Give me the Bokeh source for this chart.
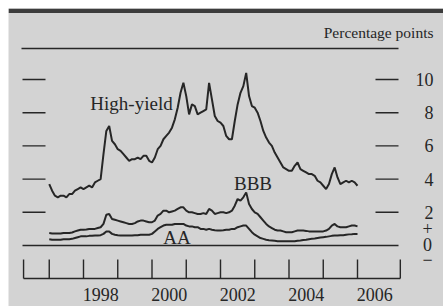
from bokeh.plotting import figure
from bokeh.models import Range1d
from bokeh.embed import file_html
from bokeh.resources import INLINE
from bokeh.core.properties import value

# ---- data (monthly, Jan 1997 .. Jan 2006), percentage points ----
start_year = 1997
high_yield = [
    3.7, 3.3, 3.0, 2.9, 3.0, 3.0, 2.9, 3.1, 3.1, 3.3, 3.4, 3.5,   # 1997
    3.4, 3.5, 3.6, 3.5, 3.8, 3.9, 4.0, 5.5, 6.9, 7.2, 6.3, 6.1,   # 1998
    5.8, 5.7, 5.5, 5.3, 5.1, 5.2, 5.2, 5.3, 5.2, 5.4, 5.4, 5.1,   # 1999
    5.0, 5.3, 5.8, 6.0, 6.4, 6.6, 6.8, 7.1, 7.6, 8.3, 9.2, 9.8,   # 2000
    9.0, 7.9, 8.5, 8.4, 7.9, 8.0, 8.1, 8.2, 9.8, 8.8, 7.8, 7.5,   # 2001
    7.4, 7.2, 6.6, 6.4, 6.4, 7.5, 8.5, 9.2, 9.6, 10.4, 9.0, 8.4,  # 2002
    8.3, 8.0, 7.5, 6.9, 6.5, 6.2, 6.0, 5.6, 5.3, 5.0, 4.7, 4.6,   # 2003
    4.5, 4.5, 4.8, 5.0, 4.6, 4.5, 4.4, 4.3, 4.3, 4.2, 3.9, 3.8,   # 2004
    3.6, 3.4, 3.7, 4.3, 4.7, 4.1, 3.7, 3.8, 3.9, 3.8, 3.9, 3.8,   # 2005
    3.6,                                                          # 2006
]
bbb = [
    0.75, 0.72, 0.72, 0.72, 0.72, 0.75, 0.75, 0.75, 0.78, 0.85, 0.9, 0.95,
    0.95, 0.97, 1.0, 1.0, 1.0, 1.05, 1.1, 1.3, 1.85, 1.9, 1.6, 1.55,
    1.5, 1.45, 1.4, 1.35, 1.3, 1.3, 1.35, 1.45, 1.5, 1.5, 1.45, 1.4,
    1.4, 1.5, 1.8, 1.9, 2.1, 2.1, 2.0, 2.05, 2.1, 2.2, 2.3, 2.3,
    2.1, 2.0, 2.0, 1.95, 1.9, 1.9, 1.95, 1.9, 2.2, 2.1, 1.9, 1.95,
    2.0, 2.0, 1.95, 2.0, 2.1, 2.4, 2.8, 2.7, 2.9, 3.2, 2.5, 2.2,
    2.0, 1.9, 1.7, 1.5, 1.3, 1.15, 1.05, 0.95, 0.9, 0.9, 0.85, 0.8,
    0.8, 0.8, 0.85, 0.9, 0.9, 0.9, 0.88, 0.85, 0.85, 0.85, 0.85, 0.85,
    0.85, 0.9, 1.0, 1.2, 1.3, 1.15, 1.1, 1.1, 1.1, 1.15, 1.2, 1.2,
    1.15,
]
aa = [
    0.38, 0.35, 0.35, 0.35, 0.35, 0.37, 0.38, 0.38, 0.4, 0.45, 0.5, 0.55,
    0.55, 0.55, 0.58, 0.58, 0.6, 0.6, 0.62, 0.7, 0.85, 0.85, 0.7, 0.65,
    0.62, 0.6, 0.6, 0.6, 0.6, 0.6, 0.62, 0.62, 0.65, 0.65, 0.65, 0.65,
    0.7, 0.85, 1.0, 1.1, 1.2, 1.25, 1.25, 1.25, 1.3, 1.3, 1.3, 1.3,
    1.2, 1.15, 1.15, 1.1, 1.1, 1.0, 1.0, 0.95, 1.0, 0.95, 0.92, 0.9,
    0.9, 0.92, 0.95, 0.95, 1.0, 1.0, 1.1, 1.15, 1.2, 1.2, 1.0, 0.8,
    0.65, 0.55, 0.45, 0.4, 0.35, 0.32, 0.3, 0.28, 0.26, 0.25, 0.25, 0.25,
    0.25, 0.25, 0.25, 0.28, 0.3, 0.33, 0.35, 0.38, 0.4, 0.42, 0.45, 0.48,
    0.5, 0.52, 0.55, 0.58, 0.6, 0.6, 0.62, 0.62, 0.65, 0.67, 0.68, 0.7,
    0.7,
]
dates = [start_year + i / 12 for i in range(len(high_yield))]

y_ticks = [2, 4, 6, 8, 10]
y_tick_labels = ["2", "4", "6", "8", "10"]
sign_labels = ["+", "0", "\u2212"]
year_ticks = [1996.25] + list(range(1997, 2007)) + [2007.25]
label_years = [1998, 2000, 2002, 2004, 2006]
year_labels = ["1998", "2000", "2002", "2004", "2006"]
series_names = ["High-yield", "BBB", "AA"]

# ---- layout ----
FIG_W, FIG_H = 443, 306
W, H = 435, 298          # grey frame (starts at page px 8, 8)
X0, X1 = 1995.8102, 2008.5109
Y0, Y1 = -3.675, 14.277
INK = "#262626"
FONT = value("Liberation Serif")

def gx(px):  # page px -> data x
    return X0 + (px - 8) / W * (X1 - X0)

def gy(py):  # page py -> data y
    return Y1 - (py - 8) / H * (Y1 - Y0)

p = figure(width=FIG_W, height=FIG_H, x_range=Range1d(X0, X1), y_range=Range1d(Y0, Y1),
           output_backend="svg", toolbar_location=None,
           min_border_left=8, min_border_top=8, min_border_right=0, min_border_bottom=0,
           x_axis_location=None, y_axis_location=None,
           background_fill_color="#d3d3d3", border_fill_color="white",
           outline_line_color=None)
p.grid.visible = False

# top dark bar
p.quad(left=[X0], right=[X1], top=[Y1], bottom=[gy(12.5)], color="#3c3c3c", line_color=None)
# header rule and unit label
p.segment(x0=[gx(21)], x1=[gx(398)], y0=[gy(48)], y1=[gy(48)], line_color=INK, line_width=1.6)
p.text(x=[gx(433)], y=[gy(32)], text=["Percentage points"], text_align="right",
       text_baseline="middle", text_font=FONT, text_font_size="15.5px", text_color=INK)

# zero line
p.segment(x0=[gx(22)], x1=[gx(398)], y0=[0], y1=[0], line_color=INK, line_width=1.6)
# y tick marks (left and right)
n = len(y_ticks)
p.segment(x0=[gx(22)] * n, x1=[gx(45)] * n, y0=y_ticks, y1=y_ticks, line_color=INK, line_width=1.4)
p.segment(x0=[gx(375)] * n, x1=[gx(398)] * n, y0=y_ticks, y1=y_ticks, line_color=INK, line_width=1.4)
p.text(x=[gx(433)] * n, y=y_ticks, text=y_tick_labels, text_align="right", text_baseline="middle",
       text_font=FONT, text_font_size="18px", text_color=INK)
p.text(x=[gx(427)] * 3, y=[gy(228), gy(244), gy(259)], text=sign_labels,
       text_align="center", text_baseline="middle", text_font=FONT, text_font_size="18px", text_color=INK)

# x axis
p.segment(x0=[year_ticks[0]], x1=[year_ticks[-1]], y0=[gy(278)], y1=[gy(278)], line_color=INK, line_width=1.6)
m = len(year_ticks)
p.segment(x0=year_ticks, x1=year_ticks, y0=[gy(259)] * m, y1=[gy(278)] * m, line_color=INK, line_width=1.4)
p.text(x=[yv + 0.5 for yv in label_years], y=[gy(294)] * len(label_years), text=year_labels,
       text_align="center", text_baseline="middle", text_font=FONT, text_font_size="18px", text_color=INK)

# series
for ys in (high_yield, bbb, aa):
    p.line(dates, ys, line_color=INK, line_width=2)

p.text(x=[gx(131), gx(252.5), gx(176.5)], y=[gy(103), gy(183), gy(237)], text=series_names,
       text_align="center", text_baseline="middle", text_font=FONT, text_font_size="19px", text_color=INK)

open("out.html", "w").write(file_html(p, INLINE))
